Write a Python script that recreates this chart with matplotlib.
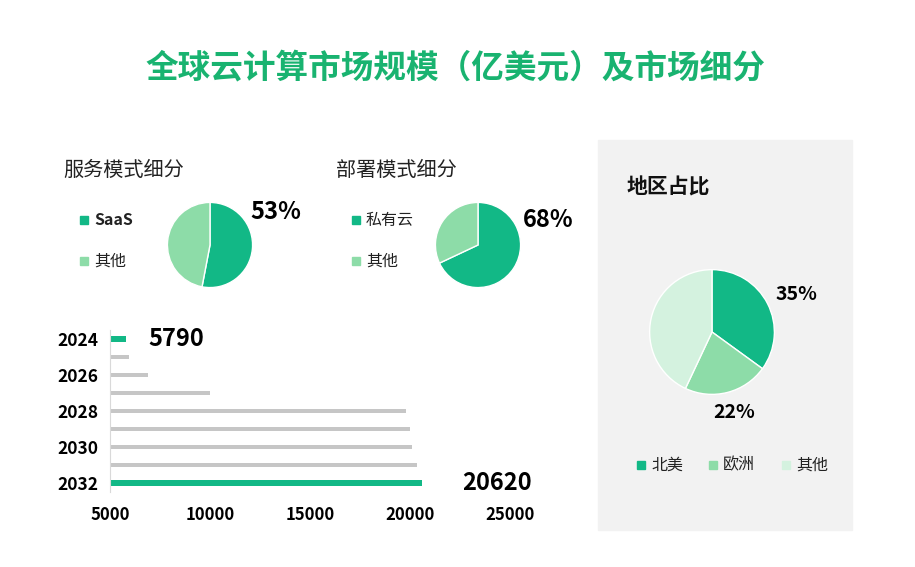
import matplotlib.pyplot as plt
from matplotlib.patches import Rectangle

plt.rcParams['font.family'] = ['Noto Sans CJK SC', 'DejaVu Sans']

# data
years = [2024, 2025, 2026, 2027, 2028, 2029, 2030, 2031, 2032]
market = [5790, 5950, 6900, 10000, 19800, 20000, 20120, 20370, 20620]
year_ticks = [2024, 2026, 2028, 2030, 2032]
x_ticks = [5000, 10000, 15000, 20000, 25000]

service_labels = ['SaaS', '其他']
service_share = [53, 47]
deploy_labels = ['私有云', '其他']
deploy_share = [68, 32]
region_labels = ['北美', '欧洲', '其他']
region_share = [35, 22, 43]

DARK = '#12b886'
MID = '#8ddca8'
LIGHT = '#d4f2df'
GRAY = '#c6c6c6'

W, H = 915, 567
fig = plt.figure(figsize=(W / 100, H / 100), dpi=100)
fig.patch.set_facecolor('white')


def box(x0, y0, x1, y1):
    # pixel box (top-left origin) -> figure fraction rect
    return [x0 / W, 1 - y1 / H, (x1 - x0) / W, (y1 - y0) / H]


def txt(x, y, s, **kw):
    fig.text(x / W, 1 - y / H, s, **kw)


# right grey panel
fig.patches.append(Rectangle((598 / W, 1 - 530 / H), 254 / W, 390 / H,
                             transform=fig.transFigure, color='#f2f2f2', zorder=-5))

txt(455, 68, '全球云计算市场规模（亿美元）及市场细分', ha='center', va='center',
    fontsize=23.5, fontweight='bold', color='#19b370')

# ---- pies ----
def pie(rect, values, colors):
    ax = fig.add_axes(rect)
    ax.pie(values, colors=colors, startangle=90, counterclock=False,
           wedgeprops=dict(edgecolor='white', linewidth=1))
    ax.set_xlim(-1.01, 1.01)
    ax.set_ylim(-1.01, 1.01)
    ax.set_aspect('equal')
    return ax


pie(box(167, 202, 253, 288), service_share, [DARK, MID])
pie(box(435, 202, 521, 288), deploy_share, [DARK, MID])
pie(box(649, 269, 775, 395), region_share, [DARK, MID, LIGHT])

txt(63, 170, '服务模式细分', fontsize=14.5, fontweight='medium', va='center', color='#222222')
txt(336, 170, '部署模式细分', fontsize=14.5, fontweight='medium', va='center', color='#222222')
txt(627, 187, '地区占比', fontsize=15, fontweight='bold', va='center', color='#111111')

txt(276, 212, f'{service_share[0]}%', fontsize=17, fontweight='bold', ha='center', va='center')
txt(548, 220, f'{deploy_share[0]}%', fontsize=17, fontweight='bold', ha='center', va='center')
txt(796, 295, f'{region_share[0]}%', fontsize=14, fontweight='bold', ha='center', va='center')
txt(734, 413, f'{region_share[1]}%', fontsize=14, fontweight='bold', ha='center', va='center')


def legend_item(x, y, color, label, bold=False):
    fig.patches.append(Rectangle(((x - 4) / W, 1 - (y + 4) / H), 8 / W, 8 / H,
                                 transform=fig.transFigure, color=color))
    txt(x + 10, y, label, fontsize=11.5, va='center',
        fontweight='bold' if bold else 'medium', color='#222222')


legend_item(84, 220, DARK, service_labels[0], bold=True)
legend_item(84, 261, MID, service_labels[1])
legend_item(356, 220, DARK, deploy_labels[0])
legend_item(356, 261, MID, deploy_labels[1])
for xp, c, lab in zip([641, 713, 786], [DARK, MID, LIGHT], region_labels):
    legend_item(xp, 465, c, lab)

# ---- bar chart ----
ax = fig.add_axes(box(110, 330, 510, 492))
colors = [DARK if i in (0, len(years) - 1) else GRAY for i in range(len(years))]
heights = [0.3 if c == DARK else 0.26 for c in colors]
ax.barh(years, [v - 5000 for v in market], left=5000, height=heights, color=colors)
ax.set_xlim(5000, 25000)
ax.set_ylim(2032.5, 2023.5)
ax.set_yticks(year_ticks)
ax.set_yticklabels([str(y) for y in year_ticks], fontsize=12.5, fontweight='bold')
ax.set_xticks(x_ticks)
ax.set_xticklabels([str(x) for x in x_ticks], fontsize=12, fontweight='bold')
ax.tick_params(length=0, pad=8)
ax.tick_params(axis='x', pad=10)
for s in ['top', 'right', 'bottom']:
    ax.spines[s].set_visible(False)
ax.spines['left'].set_color('#d9d9d9')
ax.patch.set_alpha(0)

ax.text(6900, years[0], str(market[0]), fontsize=17, fontweight='bold', va='center')
ax.text(22600, years[-1], str(market[-1]), fontsize=17, fontweight='bold', va='center')

fig.savefig('out.png', dpi=100)
